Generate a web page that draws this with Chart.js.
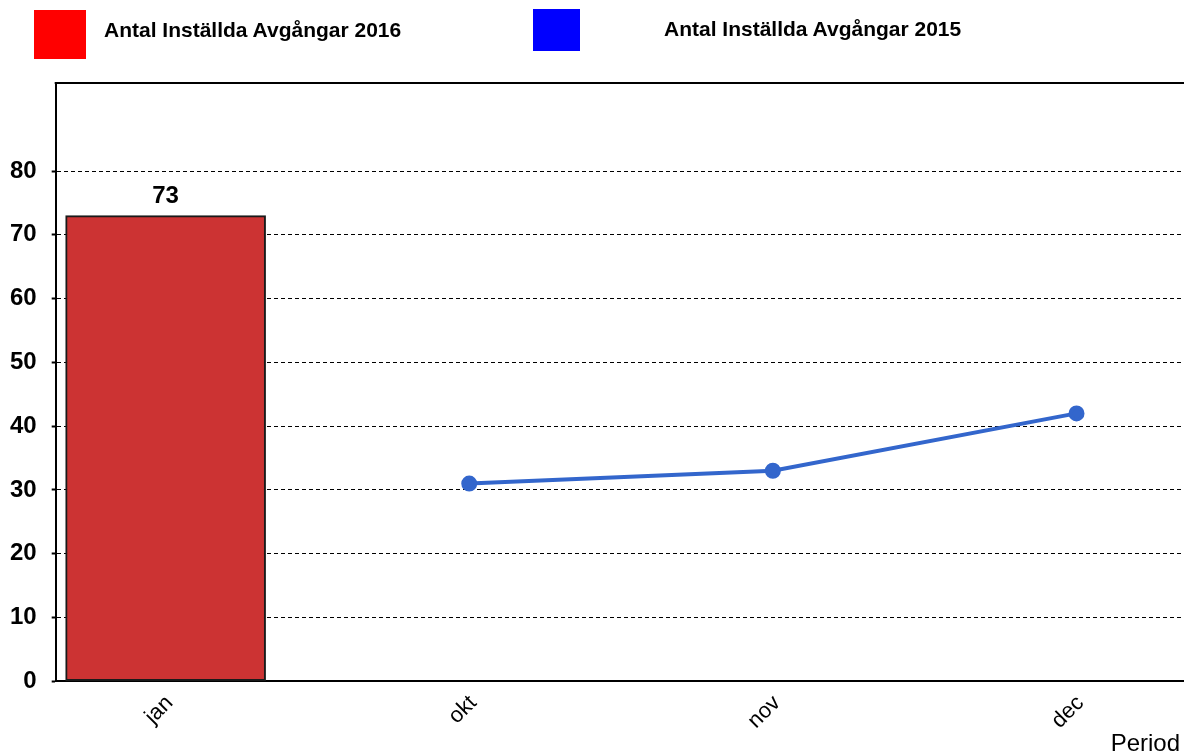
<!DOCTYPE html>
<html>
<head>
<meta charset="utf-8">
<script src="https://cdn.jsdelivr.net/npm/chart.js@4.4.1/dist/chart.umd.min.js"></script>
<style>
  html, body { margin: 0; padding: 0; background: #fff; overflow: hidden; }
  #wrap { position: relative; width: 1184px; height: 755px; font-family: Arial, "Liberation Sans", sans-serif; overflow: hidden; }
  #c { position: absolute; left: 0; top: 0; }
  .box { position: absolute; }
  .lt { position: absolute; font-weight: bold; font-size: 21px; color: #000; white-space: nowrap; line-height: 1; }
</style>
</head>
<body>
<div id="wrap">
  <canvas id="c" width="1194" height="755"></canvas>
  <div class="box" style="left:34px;top:10px;width:52px;height:49px;background:#ff0000"></div>
  <div class="lt" id="l1" style="left:104px;top:19px"></div>
  <div class="box" style="left:533px;top:9px;width:47px;height:42px;background:#0000ff"></div>
  <div class="lt" id="l2" style="left:664px;top:18px"></div>
</div>
<script>
const categories = ['jan', 'okt', 'nov', 'dec'];
const series2016Label = 'Antal Inställda Avgångar 2016';
const series2015Label = 'Antal Inställda Avgångar 2015';
const values2016 = [73, null, null, null];
const values2015 = [null, 31, 33, 42];
const yTicks = [0, 10, 20, 30, 40, 50, 60, 70, 80];
const xAxisTitle = 'Period';

document.getElementById('l1').textContent = series2016Label;
document.getElementById('l2').textContent = series2015Label;

const FONT = 'Arial, "Liberation Sans", sans-serif';
const toPoints = arr => arr.map((v, i) => v === null ? null : { x: i, y: v }).filter(p => p);

const frameAndTitle = {
  id: 'frameAndTitle',
  afterDraw(chart) {
    const { ctx, chartArea } = chart;
    ctx.save();
    ctx.strokeStyle = '#000';
    ctx.lineWidth = 2;
    ctx.beginPath();
    ctx.moveTo(chartArea.left - 1, chartArea.top);
    ctx.lineTo(chartArea.right, chartArea.top);
    ctx.stroke();
    ctx.font = '24px ' + FONT;
    ctx.fillStyle = '#000';
    ctx.textAlign = 'right';
    ctx.textBaseline = 'alphabetic';
    ctx.fillText(xAxisTitle, 1180, chartArea.bottom + 70);
    ctx.restore();
  }
};

const barLabels = {
  id: 'barLabels',
  afterDatasetsDraw(chart) {
    const { ctx } = chart;
    const meta = chart.getDatasetMeta(0);
    ctx.save();
    ctx.font = 'bold 24px ' + FONT;
    ctx.fillStyle = '#000';
    ctx.textAlign = 'center';
    ctx.textBaseline = 'bottom';
    meta.data.forEach((el, i) => {
      const p = chart.data.datasets[0].data[i];
      ctx.fillText(String(p.y), el.x, el.y - 7);
    });
    ctx.restore();
  }
};

new Chart(document.getElementById('c'), {
  data: {
    datasets: [
      {
        type: 'bar',
        label: series2016Label,
        data: toPoints(values2016),
        backgroundColor: '#cc3333',
        borderColor: '#1a1a1a',
        borderWidth: 2,
        borderSkipped: false,
        barThickness: 200,
        order: 2
      },
      {
        type: 'line',
        label: series2015Label,
        data: toPoints(values2015),
        borderColor: '#3366cc',
        backgroundColor: '#3366cc',
        borderWidth: 4,
        pointRadius: 6,
        pointHoverRadius: 6,
        tension: 0,
        order: 1
      }
    ]
  },
  options: {
    responsive: false,
    animation: false,
    layout: { padding: { top: 83, right: 0, left: -5, bottom: 12 } },
    plugins: { legend: { display: false }, tooltip: { enabled: false } },
    scales: {
      x: {
        type: 'linear',
        offset: false,
        min: -0.362,
        max: 3.354,
        afterBuildTicks(scale) { scale.ticks = categories.map((c, i) => ({ value: i })); },
        ticks: {
          callback: (v) => categories[v] ?? '',
          maxRotation: 45, minRotation: 45,
          color: '#000',
          font: { family: FONT, size: 22 },
          padding: 9,
          labelOffset: 4,
          autoSkip: false
        },
        grid: { display: false, drawTicks: false, offset: false },
        border: { display: true, color: '#000', width: 2 }
      },
      y: {
        type: 'linear',
        min: 0,
        max: 93.8,
        afterBuildTicks(scale) { scale.ticks = yTicks.map(v => ({ value: v })); },
        ticks: {
          color: '#000',
          font: { family: FONT, size: 24, weight: 'bold' },
          padding: 15
        },
        grid: {
          color: '#000', lineWidth: 1, tickLength: 4, tickColor: '#000', tickWidth: 2,
          tickBorderDash: [0, 0]
        },
        border: { display: true, color: '#000', width: 2, dash: [4, 3] }
      }
    }
  },
  plugins: [frameAndTitle, barLabels]
});
</script>
</body>
</html>
